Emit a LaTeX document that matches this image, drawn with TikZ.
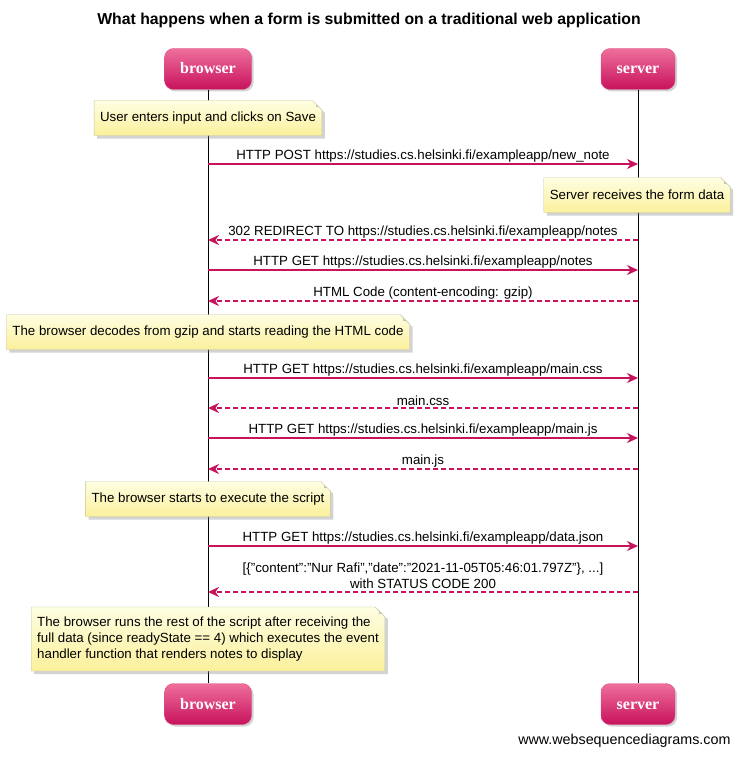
\documentclass[tikz,border=0pt]{standalone}
\usepackage{fontspec}
\setmainfont{Liberation Sans}
\newfontfamily\actorfont{Liberation Serif}
\usetikzlibrary{positioning,shapes.misc,shadows,arrows.meta}
\definecolor{msgcol}{HTML}{C8125C}
\definecolor{actortop}{HTML}{EE6F9C}
\definecolor{actorbot}{HTML}{C8125C}
\definecolor{notetop}{HTML}{FEFEE2}
\definecolor{notebot}{HTML}{FBF09C}
\definecolor{noteline}{HTML}{C4C4A2}

\begin{document}
\begin{tikzpicture}[
     x=1pt, y=-1pt,
     % define styles
     actor/.style={
         rounded corners=9pt,
         draw=actorbot!70!white,
         top color=actortop,
         bottom color=actorbot,
         minimum height=41pt,
         text height=12pt,
         text depth=2pt,
         text=white,
         font=\actorfont\bfseries\fontsize{16}{18}\selectfont,
         drop shadow={shadow xshift=2pt, shadow yshift=-2pt, opacity=0.35}
     },
     note/.style={
         chamfered rectangle,
         chamfered rectangle corners=north east,
         chamfered rectangle xsep=6pt,
         draw=noteline,
         top color=notetop,
         bottom color=notebot,
         inner xsep=0pt,
         minimum height=35pt,
         font=\fontsize{13.3}{16}\selectfont,
         drop shadow={shadow xshift=3pt, shadow yshift=-3pt, opacity=0.35},
         path picture={
             \draw[noteline] ([xshift=-6pt]path picture bounding box.north east)
                 -- ++(0,6) -- ++(6,0);
         }
     },
     msg/.style={draw=msgcol, line width=1.4pt, -{Stealth[length=11pt,width=10pt]}},
     reply/.style={msg, dashed, dash pattern=on 5pt off 3pt},
     lbl/.style={above=0pt, inner sep=1.5pt, font=\fontsize{13.3}{15}\selectfont, align=center},
     life/.style={draw=black, line width=0.9pt}
]
\useasboundingbox (0,0) rectangle (739,757);

% title
\node[font=\bfseries\fontsize{15.8}{18}\selectfont] (title) at (369,20)
    {What happens when a form is submitted on a traditional web application};

% participants
\node[actor, minimum width=87pt] (browser)    at (208,69)  {browser};
\node[actor, minimum width=74pt] (server)     at (638,69)  {server};
\node[actor, minimum width=87pt] (browserEnd) at (208,704) {browser};
\node[actor, minimum width=74pt] (serverEnd)  at (638,704) {server};

% lifelines
\draw[life] (browser) -- (browserEnd);
\draw[life] (server) -- (serverEnd);

% message rows on the lifelines
\foreach \n/\y in {1/164, 2/240, 3/270, 4/301, 5/378, 6/408, 7/438, 8/469, 9/546, 10/592} {
    \coordinate (b\n) at (208,\y);
    \coordinate (s\n) at (638,\y);
}

% notes
\node[note] (noteSave)   at (208,118) {User enters input and clicks on Save};
\node[note] (noteForm)   at (637,195) {Server receives the form data};
\node[note] (noteGzip)   at (208,332) {The browser decodes from gzip and starts reading the HTML code};
\node[note] (noteScript) at (208,499) {The browser starts to execute the script};
\node[note, align=left, minimum height=64pt] (noteRender) at (208,639)
    {The browser runs the rest of the script after receiving the\\
     full data (since readyState == 4) which executes the event\\
     handler function that renders notes to display};

% messages
\draw[msg]   (b1) -- node[lbl] {HTTP POST https://studies.cs.helsinki.fi/exampleapp/new\_note} (s1);
\draw[reply] (s2) -- node[lbl] {302 REDIRECT TO https://studies.cs.helsinki.fi/exampleapp/notes} (b2);
\draw[msg]   (b3) -- node[lbl] {HTTP GET https://studies.cs.helsinki.fi/exampleapp/notes} (s3);
\draw[reply] (s4) -- node[lbl] {HTML Code (content-encoding: gzip)} (b4);
\draw[msg]   (b5) -- node[lbl] {HTTP GET https://studies.cs.helsinki.fi/exampleapp/main.css} (s5);
\draw[reply] (s6) -- node[lbl] {main.css} (b6);
\draw[msg]   (b7) -- node[lbl] {HTTP GET https://studies.cs.helsinki.fi/exampleapp/main.js} (s7);
\draw[reply] (s8) -- node[lbl] {main.js} (b8);
\draw[msg]   (b9) -- node[lbl] {HTTP GET https://studies.cs.helsinki.fi/exampleapp/data.json} (s9);
\draw[reply] (s10) -- node[lbl, inner sep=3pt, font=\fontsize{13.3}{16}\selectfont]
    {[\{"content":"Nur Rafi","date":"2021-11-05T05:46:01.797Z"\}, ...]\\ with STATUS CODE 200} (b10);

% footer
\node[anchor=east, font=\fontsize{14.3}{16}\selectfont] (footer) at (734,741) {www.websequencediagrams.com};
\end{tikzpicture}
\end{document}
